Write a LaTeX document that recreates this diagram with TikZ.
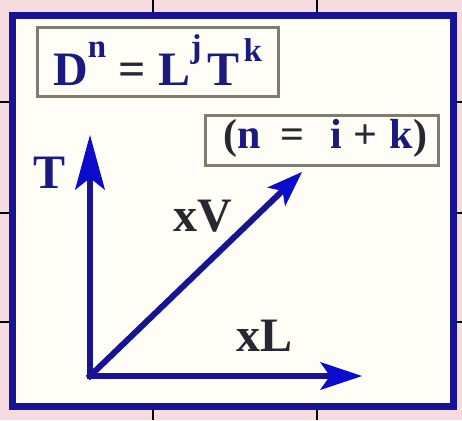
\documentclass[tikz,border=0pt]{standalone}
\usepackage{fontspec}
\setmainfont{Liberation Serif}
\usepackage{tikz}
\usetikzlibrary{arrows.meta}

\definecolor{pagepink}{RGB}{246,220,222}
\definecolor{sheet}{RGB}{254,254,247}
\definecolor{frameblue}{RGB}{24,18,148}
\definecolor{tipblue}{RGB}{12,12,205}
\definecolor{inkblue}{RGB}{26,26,128}
\definecolor{boxgray}{RGB}{125,125,112}
\definecolor{darkink}{RGB}{40,40,50}

\newcommand{\powtxt}[2][28pt]{\raisebox{#1}{\fontsize{33}{36}\selectfont #2}}

\begin{document}
\begin{tikzpicture}[x=1pt, y=-1pt,
  axis/.style={line width=6pt, color=frameblue, line cap=rect},
  eqbox/.style={draw=boxgray, line width=3pt, fill=sheet, inner sep=0pt, text=inkblue},
  lbl/.style={font=\bfseries\fontsize{48}{56}\selectfont, text=darkink}]

% page with the tick marks round the sheet
\useasboundingbox (0,0) rectangle (462,420);
\fill[pagepink] (0,0) rectangle (462,420);
\foreach \xt in {153,317} {
  \draw[line width=2pt] (\xt,0) -- (\xt,16);
  \draw[line width=2pt] (\xt,406) -- (\xt,420);
}
\foreach \yt in {102,213,322} {
  \draw[line width=2pt] (0,\yt) -- (16,\yt);
  \draw[line width=2pt] (450,\yt) -- (462,\yt);
}

% blue frame of the sheet
\draw[line width=7pt, color=frameblue, fill=sheet] (12.5,16) rectangle (453.5,406);

% dimension formula and exponent rule
\node[eqbox, minimum width=241pt, minimum height=68pt, text height=46pt, text depth=0pt,
  font=\bfseries\fontsize{48}{56}\selectfont] (law) at (157.5,62)
  {D\powtxt{n}\hspace{12pt}{\color{darkink}=}\hspace{13pt}L\powtxt{j}\hspace{6pt}T\hspace{4pt}\powtxt[24pt]{k}};
\node[eqbox, minimum width=233pt, minimum height=50pt, text height=26pt, text depth=10pt,
  font=\bfseries\fontsize{42}{50}\selectfont] (sum) at (321.5,140)
  {\hspace{8pt}{\color{darkink}(}n\hspace{19pt}{\color{darkink}=}\hspace{26pt}i\hspace{12pt}{\color{darkink}+}\hspace{12pt}k{\color{darkink})}};

% axes T and L, and the combined V
\coordinate (O) at (90,376);
\coordinate (Ttip) at (90,135);
\coordinate (Ltip) at (362,376);
\coordinate (Vtip) at (302,172);
\draw[axis, -{Stealth[length=55pt, width=30pt, inset=12pt, line width=1pt, color=tipblue]}] (O) -- (Ttip);
\draw[axis, -{Stealth[length=42pt, width=28pt, inset=10pt, line width=1pt, color=tipblue]}] (O) -- (Ltip);
\draw[axis, -{Stealth[length=36pt, width=26pt, inset=9pt, line width=1pt, color=tipblue]}] (O) -- (Vtip);

% axis labels
\node[lbl, text=inkblue] (T) at (50,173) {T};
\node[lbl] (xV) at (203,216) {xV};
\node[lbl] (xL) at (265,336) {xL};
\end{tikzpicture}
\end{document}
